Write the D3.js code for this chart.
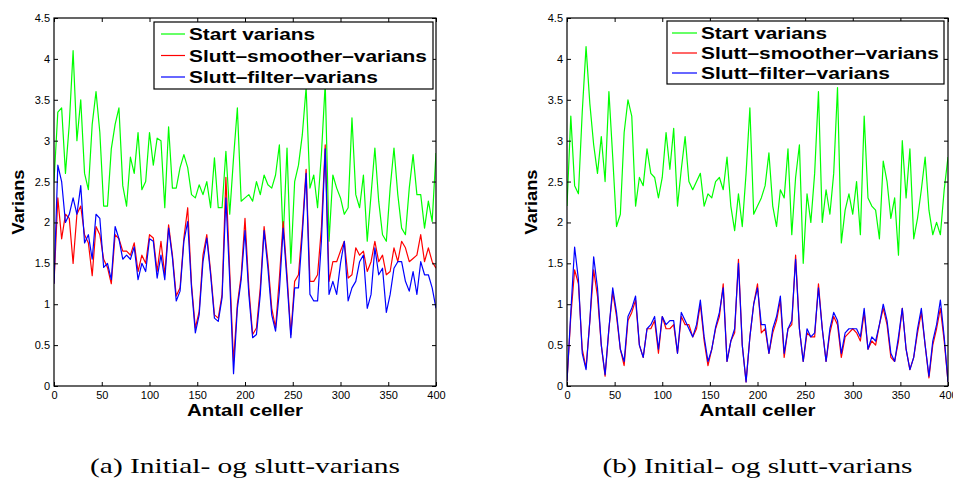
<!DOCTYPE html>
<html><head><meta charset="utf-8">
<script src="https://cdn.jsdelivr.net/npm/d3@7"></script>
<style>body{margin:0;background:#fff}svg{display:block}</style>
</head><body>
<svg id="chart" width="953" height="479"></svg>
<script>
// ---------- data ----------
const cells = d3.range(0, 401, 4);               // cell index of every sample
const xTicks = [0, 50, 100, 150, 200, 250, 300, 350, 400];
const yTicks = [0, 0.5, 1, 1.5, 2, 2.5, 3, 3.5, 4, 4.5];
const seriesNames = ["Start varians", "Slutt\u2013smoother\u2013varians", "Slutt\u2013filter\u2013varians"];
const seriesColors = ["#00ff00", "#ff0000", "#0000ff"];
const xTitle = "Antall celler";
const yTitle = "Varians";
const captions = ["(a) Initial- og slutt-varians", "(b) Initial- og slutt-varians"];

// panel (a)
const startA = [2.5,3.35,3.4,2.6,3.2,4.1,3.0,3.5,2.6,2.4,3.2,3.6,3.1,2.2,2.2,2.9,3.2,3.4,2.45,2.2,2.8,2.6,3.1,2.4,2.5,3.1,
  2.7,3.03,3.0,2.18,3.17,2.42,2.42,2.67,2.83,2.67,2.34,2.3,2.46,2.34,2.5,2.18,2.79,2.18,2.18,2.87,2.1,2.79,3.4,2.26,2.3,
  2.34,2.26,2.5,2.34,2.58,2.46,2.42,2.58,2.95,1.8,2.91,1.5,2.5,2.7,3.07,3.65,2.42,2.58,2.18,2.83,3.7,1.77,2.58,2.42,2.3,
  2.1,2.18,3.28,2.34,2.18,2.58,1.77,2.34,2.91,2.26,1.85,1.77,2.42,2.91,2.34,1.93,1.85,2.42,2.83,2.34,2.34,1.93,2.26,2.01,2.85];
const smootherA = [1.25,2.3,1.8,2.1,2.05,1.5,2.1,2.2,1.85,1.75,1.35,1.95,1.85,1.55,1.45,1.25,1.85,1.8,1.65,1.65,1.6,1.75,1.4,1.6,1.5,1.85,
  1.81,1.4,1.77,1.36,1.97,1.6,1.1,1.2,1.81,2.18,1.24,0.71,0.91,1.6,1.85,1.4,0.87,0.83,1.12,2.55,1.4,0.3,1.0,1.35,2.05,
  1.2,0.63,0.71,1.2,1.95,1.52,0.95,0.71,1.32,2.01,1.36,0.63,1.28,1.36,1.93,2.65,1.28,1.28,1.36,1.93,2.95,1.28,1.52,1.52,1.65,
  1.77,1.32,1.36,1.69,1.6,1.65,1.4,1.52,1.77,1.52,1.6,1.36,1.4,1.69,1.52,1.77,1.69,1.52,1.56,1.6,1.85,1.52,1.69,1.52,1.44];
const filterA = [1.25,2.7,2.5,2.0,2.1,2.3,2.1,2.45,1.75,1.85,1.55,2.1,2.05,1.45,1.5,1.3,1.95,1.8,1.55,1.6,1.55,1.7,1.3,1.5,1.4,1.8,
  1.77,1.32,1.6,1.3,1.93,1.57,1.04,1.16,1.77,2.01,1.2,0.65,0.87,1.52,1.81,1.36,0.83,0.79,1.08,2.3,1.3,0.15,0.95,1.3,1.9,
  1.12,0.59,0.63,1.12,1.9,1.44,0.87,0.67,1.16,1.93,1.28,0.59,1.2,1.2,1.85,2.6,1.12,1.04,1.04,1.77,2.9,1.12,1.28,1.12,1.5,
  1.77,1.04,1.2,1.28,1.52,1.6,0.95,1.12,1.69,1.36,1.44,0.9,1.12,1.44,1.52,1.52,1.28,1.16,1.4,1.12,1.52,1.36,1.36,1.2,0.95];

// panel (b)
const startB = [2.2,3.3,2.45,2.35,3.35,4.15,3.45,2.95,2.6,3.05,2.5,3.6,2.8,1.95,2.1,3.1,3.5,3.3,2.2,2.55,2.45,2.9,2.6,2.55,2.3,2.55,
  3.1,2.65,3.15,2.2,2.65,3.05,2.5,2.4,2.5,2.6,2.2,2.35,2.3,2.5,2.55,2.4,2.8,2.2,1.9,2.35,1.95,2.6,3.4,2.1,2.2,
  2.3,2.45,2.85,2.2,1.95,2.4,2.3,2.9,1.85,2.55,2.95,1.5,2.35,2.0,2.6,3.6,2.0,2.4,2.1,2.6,3.65,1.75,2.15,2.35,2.1,
  2.5,1.85,3.3,2.3,2.2,2.15,1.8,2.75,2.5,2.05,2.3,1.6,3.0,2.3,2.9,1.8,2.05,2.4,2.8,2.15,1.85,2.0,1.85,2.4,2.8];
const smootherB = [0.06,0.85,1.42,1.25,0.45,0.22,0.8,1.42,1.1,0.5,0.12,0.7,1.15,0.85,0.45,0.25,0.8,0.9,1.05,0.5,0.35,0.7,0.7,0.8,0.4,0.85,
  0.7,0.7,0.75,0.4,0.85,0.75,0.75,0.6,0.7,1.0,0.55,0.25,0.45,0.7,0.85,1.25,0.3,0.55,0.65,1.55,0.5,0.05,0.6,1.0,1.25,
  0.65,0.7,0.4,0.65,0.8,1.05,0.35,0.7,0.75,1.6,0.7,0.3,0.65,0.6,0.6,1.25,0.7,0.3,0.65,0.85,0.75,0.35,0.6,0.65,0.7,
  0.65,0.55,0.9,0.45,0.55,0.5,0.75,0.95,0.75,0.35,0.3,0.55,0.95,0.45,0.2,0.35,0.65,0.9,0.5,0.1,0.5,0.7,0.95,0.55,0.05];
const filterB = [0.06,0.9,1.7,1.3,0.4,0.2,0.8,1.58,1.2,0.5,0.14,0.7,1.2,0.9,0.45,0.3,0.85,0.95,1.1,0.5,0.35,0.7,0.75,0.85,0.45,0.85,
  0.75,0.8,0.8,0.4,0.9,0.8,0.7,0.6,0.75,1.05,0.6,0.3,0.45,0.72,0.9,1.2,0.3,0.55,0.7,1.5,0.5,0.05,0.6,1.0,1.2,
  0.75,0.75,0.4,0.7,0.85,1.1,0.4,0.7,0.8,1.55,0.7,0.3,0.7,0.6,0.65,1.2,0.7,0.3,0.7,0.9,0.8,0.4,0.65,0.7,0.7,
  0.7,0.6,0.95,0.45,0.6,0.55,0.75,1.0,0.8,0.4,0.3,0.6,0.95,0.45,0.2,0.35,0.7,0.95,0.5,0.12,0.55,0.75,1.05,0.6,0.05];

// ---------- layout ----------
const SANS = "'Liberation Sans', Arial, Helvetica, sans-serif";
const SERIF = "'Liberation Serif', 'DejaVu Serif', serif";
const plotTop = 18, plotBottom = 386;
const panels = [
  {left: 54, right: 436, series: [startA, smootherA, filterA], caption: captions[0],
   legend: {x: 154, y: 22, w: 279, h: 67, lx1: 161, lx2: 185, tx: 189, rows: [34, 55.5, 77]}},
  {left: 567, right: 948, series: [startB, smootherB, filterB], caption: captions[1],
   legend: {x: 667, y: 21, w: 277, h: 63, lx1: 672, lx2: 697, tx: 701, rows: [33, 53, 73]}}
];
const legendWidths = [126, 238, 189];

const svg = d3.select("#chart");

panels.forEach((p, pi) => {
  const x = d3.scaleLinear().domain([0, 400]).range([p.left, p.right]);
  const y = d3.scaleLinear().domain([0, 4.5]).range([plotBottom, plotTop]);
  const g = svg.append("g");

  const clipId = "clip" + pi;
  svg.append("clipPath").attr("id", clipId).append("rect")
    .attr("x", p.left).attr("y", plotTop).attr("width", p.right - p.left).attr("height", plotBottom - plotTop);

  const line = d3.line().x((d, i) => x(cells[i])).y(d => y(d));
  p.series.forEach((s, si) => {
    g.append("path").datum(s).attr("d", line)
      .attr("fill", "none").attr("stroke", seriesColors[si])
      .attr("stroke-width", 1.2).attr("stroke-linejoin", "round")
      .attr("clip-path", `url(#${clipId})`);
  });

  const tl = 4;
  const axB = g.append("g").attr("transform", `translate(0,${plotBottom})`)
    .call(d3.axisBottom(x).tickValues(xTicks).tickSizeInner(-tl).tickSizeOuter(0).tickPadding(5).tickFormat(d => String(d)));
  const axL = g.append("g").attr("transform", `translate(${p.left},0)`)
    .call(d3.axisLeft(y).tickValues(yTicks).tickSizeInner(-tl).tickSizeOuter(0).tickPadding(4).tickFormat(d => String(d)));
  const axT = g.append("g").attr("transform", `translate(0,${plotTop})`)
    .call(d3.axisTop(x).tickValues(xTicks).tickSizeInner(-tl).tickSizeOuter(0).tickFormat(""));
  const axR = g.append("g").attr("transform", `translate(${p.right},0)`)
    .call(d3.axisRight(y).tickValues(yTicks).tickSizeInner(-tl).tickSizeOuter(0).tickFormat(""));
  [axB, axL, axT, axR].forEach(a => {
    a.select(".domain").remove();
    a.selectAll("line").attr("stroke", "#000");
    a.selectAll("text").attr("fill", "#000").style("font-family", SANS).style("font-size", "11px");
  });

  g.append("rect").attr("x", p.left).attr("y", plotTop)
    .attr("width", p.right - p.left).attr("height", plotBottom - plotTop)
    .attr("fill", "none").attr("stroke", "#000").attr("stroke-width", 1.2);

  g.append("text").attr("x", (p.left + p.right) / 2).attr("y", 416)
    .attr("text-anchor", "middle").style("font-family", SANS).style("font-weight", "bold")
    .style("font-size", "17px").attr("textLength", 116).attr("lengthAdjust", "spacingAndGlyphs")
    .text(xTitle);
  g.append("text").attr("transform", `translate(${p.left - 30},${(plotTop + plotBottom) / 2}) rotate(-90)`)
    .attr("text-anchor", "middle").style("font-family", SANS).style("font-weight", "bold")
    .style("font-size", "17px").attr("textLength", 65).attr("lengthAdjust", "spacingAndGlyphs")
    .text(yTitle);

  const L = p.legend;
  const lg = g.append("g");
  lg.append("rect").attr("x", L.x).attr("y", L.y).attr("width", L.w).attr("height", L.h)
    .attr("fill", "#fff").attr("stroke", "#000").attr("stroke-width", 1.2);
  seriesNames.forEach((name, si) => {
    lg.append("line").attr("x1", L.lx1).attr("x2", L.lx2).attr("y1", L.rows[si]).attr("y2", L.rows[si])
      .attr("stroke", seriesColors[si]).attr("stroke-width", 1.2);
    lg.append("text").attr("x", L.tx).attr("y", L.rows[si] + 6)
      .style("font-family", SANS).style("font-weight", "bold").style("font-size", "17px")
      .attr("textLength", legendWidths[si]).attr("lengthAdjust", "spacingAndGlyphs")
      .text(name);
  });

  svg.append("text").attr("x", (p.left + p.right) / 2).attr("y", 473)
    .attr("text-anchor", "middle").style("font-family", SERIF).style("font-size", "21px")
    .attr("textLength", 310).attr("lengthAdjust", "spacingAndGlyphs")
    .text(p.caption);
});
</script>
</body></html>
